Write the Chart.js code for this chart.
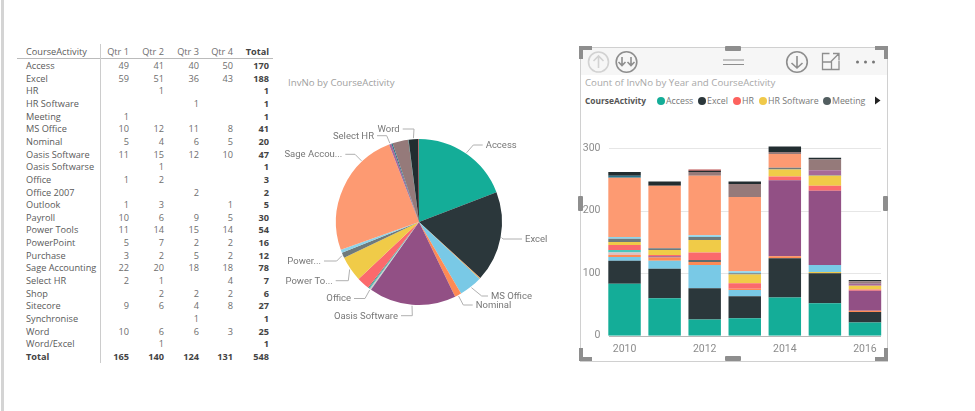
<!DOCTYPE html>
<html>
<head>
<meta charset="utf-8">
<script src="https://cdn.jsdelivr.net/npm/chart.js@4"></script>
<style>
html, body { margin: 0; padding: 0; background: #fff; }
body { width: 975px; height: 411px; position: relative; overflow: hidden; font-family: "Open Sans", sans-serif; }
.abs { position: absolute; white-space: nowrap; }
canvas { position: absolute; }
.cell { position: absolute; font-size: 9.2px; color: #6e6e6e; line-height: 12px; white-space: nowrap; }
.cell.name { color: #5a5a5a; }
.cell.bold { font-weight: 700; color: #444; }
.num { text-align: right; width: 30px; }
</style>
</head>
<body>

<div class="abs" style="left:1px;top:0;width:3px;height:411px;background:#d4d4d4"></div>

<!-- table -->
<div id="table"></div>
<div class="abs" style="left:17px;top:58px;width:256px;height:1px;background:#bbb"></div>
<div class="abs" style="left:100px;top:44px;width:1px;height:319px;background:#ccc"></div>

<!-- pie -->
<div class="abs" style="left:288px;top:76px;font-size:9.7px;line-height:14px;color:#a0a0a0">InvNo by CourseActivity</div>
<canvas id="pieChart" width="270" height="260" style="left:285px;top:70px"></canvas>

<!-- bar visual -->
<div class="abs" style="left:580px;top:47px;width:306px;height:313px;border:1px solid #d0d0d0;box-sizing:content-box"></div>
<div class="abs" style="left:581px;top:48px;width:306px;height:27px;background:#f6f6f6"></div>
<div class="abs" style="left:585px;top:76px;font-size:9.7px;line-height:14px;color:#a8a8a8">Count of InvNo by Year and CourseActivity</div>
<div id="legend"></div>
<canvas id="barChart" width="308" height="250" style="left:580px;top:110px"></canvas>

<svg class="abs" style="left:0;top:0" width="975" height="411" fill="none">
  <g fill="#8e8e8e">
    <path d="M579 46h13v4h-9v9h-4z"/>
    <path d="M875 46h13v13h-4v-9h-9z"/>
    <path d="M579 348h4v9h9v4h-13z"/>
    <path d="M884 348h4v13h-13v-4h9z"/>
    <rect x="725" y="46" width="16" height="5" rx="1"/>
    <rect x="725" y="356" width="16" height="5" rx="1"/>
    <rect x="578" y="196" width="5" height="15" rx="1"/>
    <rect x="883" y="196" width="5" height="15" rx="1"/>
  </g>
  <g stroke="#d2d2d2" stroke-width="1.6">
    <circle cx="598.5" cy="62" r="10"/>
    <path d="M598.5 68v-12M593.5 61l5-5 5 5"/>
  </g>
  <g stroke="#8e8e8e" stroke-width="1.6">
    <circle cx="626.5" cy="62" r="10.3"/>
    <path d="M622 57v8M618.5 62l3.5 3.5 3.5-3.5M631 57v8M627.5 62l3.5 3.5 3.5-3.5"/>
    <path d="M723 60h21M723 64.500h21" stroke-width="1.2"/>
    <circle cx="797" cy="62" r="10.3"/>
    <path d="M797 56v12M791.500 63l5.500 5 5.500-5"/>
    <path d="M822.500 62v7.500h9V62zM822.500 62v-8.500h7M833 53.500h6v7M839 53.500l-8 8M839 61v8.500h-8" stroke-width="1.3"/>
  </g>
  <g fill="#777">
    <circle cx="857.500" cy="62" r="1.500"/><circle cx="865.500" cy="62" r="1.500"/><circle cx="873.500" cy="62" r="1.500"/>
    <path d="M875 96.500l5.500 4-5.500 4z" fill="#222"/>
  </g>
</svg>

<script>
// table
const activities = ['Access', 'Excel', 'HR', 'HR Software', 'Meeting', 'MS Office', 'Nominal', 'Oasis Software', 'Oasis Softwarse', 'Office', 'Office 2007', 'Outlook', 'Payroll', 'Power Tools', 'PowerPoint', 'Purchase', 'Sage Accounting', 'Select HR', 'Shop', 'Sitecore', 'Synchronise', 'Word', 'Word/Excel'];
const qtr1 = [49, 59, null, null, 1, 10, 5, 11, null, 1, null, 1, 10, 11, 5, 3, 22, 2, null, 9, null, 10, null];
const qtr2 = [41, 51, 1, null, null, 12, 4, 15, 1, 2, null, 3, 6, 14, 7, 2, 20, 1, 2, 6, null, 6, 1];
const qtr3 = [40, 36, null, 1, null, 11, 6, 12, null, null, 2, null, 9, 15, 2, 5, 18, null, 2, 4, 1, 6, null];
const qtr4 = [50, 43, null, null, null, 8, 5, 10, null, null, null, 1, 5, 14, 2, 2, 18, 4, 2, 8, null, 3, null];
const rowTotals = [170, 188, 1, 1, 1, 41, 20, 47, 1, 3, 2, 5, 30, 54, 16, 12, 78, 7, 6, 27, 1, 25, 1];
const columnHeads = ['Qtr 1', 'Qtr 2', 'Qtr 3', 'Qtr 4', 'Total'];
const columnTotals = [165, 140, 124, 131, 548];

// pie
const pieValues = [326, 300, 1, 2, 1, 77, 22, 289, 1, 4, 4, 3, 42, 84, 18, 10, 418, 8, 4, 53, 1, 32, 2];
const pieColors = ['#14ad98', '#2b373b', '#fd625e', '#f0c94a', '#525e60', '#79c9e6', '#fe8a55', '#925085', '#3599b8', '#dfbfbf', '#4ac5bb', '#5f6b6d', '#fb6a6c', '#f0cb48', '#6f7a7b', '#8fd4ea', '#fd9a72', '#a66999', '#28738a', '#957a7a', '#168980', '#222d30', '#bb4a4a'];

// stacked bars
const years = ['2010', '2011', '2012', '2013', '2014', '2015', '2016'];
const accessByYear = [83, 60, 26, 28, 61, 52, 21];
const excelByYear = [37, 47, 50, 35, 63, 48, 17];
const hrSoftwareByYear = [0, 0, 0, 0, 0, 2, 0];
const msOfficeByYear = [6, 13, 37, 10, 0, 11, 0];
const nominalByYear = [3, 5, 5, 2, 3, 0, 2];
const oasisByYear = [0, 2, 0, 0, 122, 119, 32];
const officeByYear = [4, 0, 0, 0, 0, 0, 0];
const office2007ByYear = [4, 0, 0, 0, 0, 0, 0];
const outlookByYear = [0, 0, 3, 0, 0, 0, 0];
const payrollByYear = [8, 2, 12, 9, 6, 8, 2];
const powerToolsByYear = [5, 8, 20, 14, 11, 16, 6];
const powerPointByYear = [5, 3, 5, 2, 3, 1, 0];
const purchaseByYear = [3, 0, 3, 3, 0, 0, 0];
const sageByYear = [95, 100, 95, 119, 22, 0, 0];
const selectHrByYear = [0, 0, 0, 0, 0, 8, 3];
const shopByYear = [3, 0, 0, 0, 0, 0, 0];
const sitecoreByYear = [0, 0, 6, 21, 3, 17, 4];
const wordByYear = [6, 7, 2, 4, 9, 3, 2];
const wordExcelByYear = [0, 0, 2, 0, 0, 0, 0];

const legendNames = ['Access', 'Excel', 'HR', 'HR Software', 'Meeting'];

// ---- table ----
const table = document.getElementById('table');
const columnRight = [129, 164, 199, 233, 269];

function addCell(text, left, top, cls) {
    const d = document.createElement('div');
    d.className = 'cell ' + cls;
    d.textContent = text;
    d.style.left = left + 'px';
    d.style.top = top + 'px';
    table.appendChild(d);
}

function rowTop(i) { return 60 + i * 12.65; }

addCell('CourseActivity', 26, 46, 'name');
columnHeads.forEach(function (h, c) {
    addCell(h, columnRight[c] - 30, 46, c === 4 ? 'num bold' : 'num');
});
activities.forEach(function (name, i) {
    addCell(name, 26, rowTop(i), 'name');
    [qtr1, qtr2, qtr3, qtr4].forEach(function (q, c) {
        if (q[i] !== null) addCell(q[i], columnRight[c] - 30, rowTop(i), 'num');
    });
    addCell(rowTotals[i], columnRight[4] - 30, rowTop(i), 'num bold');
});
addCell('Total', 26, rowTop(23), 'name bold');
columnTotals.forEach(function (t, c) {
    addCell(t, columnRight[c] - 30, rowTop(23), 'num bold');
});

// ---- pie ----
// along = where on the slice the leader starts (0 start, 1 end), default middle
const callouts = [
    { i: 0, text: 'Access', elbow: 188.3, y: 75, x: 200.7, side: 'left' },
    { i: 1, text: 'Excel', elbow: 218, y: 169, x: 240, side: 'left' },
    { i: 5, text: 'MS Office', elbow: 196.7, y: 226, x: 206, side: 'left' },
    { i: 6, text: 'Nominal', elbow: 178.3, y: 235, x: 190.7, side: 'left' },
    { i: 7, text: 'Oasis Software', elbow: 127.3, y: 245.7, x: 113, side: 'right' },
    { i: 9, text: 'Office', elbow: 80, y: 228.5, x: 66, side: 'right' },
    { i: 13, text: 'Power To...', elbow: 63.3, y: 210.7, x: 47.7, side: 'right' },
    { i: 14, text: 'Power...', elbow: 51.7, y: 191, x: 36, side: 'right' },
    { i: 16, text: 'Sage Accou...', elbow: 70, y: 84.3, x: 57.3, side: 'right', along: 0.75 },
    { i: 17, text: 'Select HR', elbow: 101.7, y: 65.7, x: 89, side: 'right' },
    { i: 21, text: 'Word', elbow: 129, y: 59, x: 114.7, side: 'right' }
];

const calloutPlugin = {
    id: 'callouts',
    afterDraw: function (chart) {
        const ctx = chart.ctx;
        const arcs = chart.getDatasetMeta(0).data;
        ctx.save();
        ctx.font = '9.5px Roboto';
        ctx.textBaseline = 'middle';
        callouts.forEach(function (c) {
            const arc = arcs[c.i];
            const along = c.along === undefined ? 0.5 : c.along;
            const mid = arc.startAngle + (arc.endAngle - arc.startAngle) * along;
            const r = arc.outerRadius + 1;
            const endX = c.side === 'left' ? c.x - 3 : c.x + 3;
            ctx.strokeStyle = '#b0b0b0';
            ctx.lineWidth = 1;
            ctx.beginPath();
            ctx.moveTo(arc.x + Math.cos(mid) * r, arc.y + Math.sin(mid) * r);
            ctx.lineTo(c.elbow, c.y);
            ctx.lineTo(endX, c.y);
            ctx.stroke();
            ctx.fillStyle = '#777';
            ctx.textAlign = c.side;
            ctx.fillText(c.text, c.x, c.y + 0.5);
        });
        ctx.restore();
    }
};

new Chart(document.getElementById('pieChart'), {
    type: 'pie',
    data: {
        labels: activities,
        datasets: [{ data: pieValues, backgroundColor: pieColors, borderWidth: 0 }]
    },
    options: {
        responsive: false,
        animation: false,
        layout: { padding: { top: 69, bottom: 25, left: 51, right: 53 } },
        plugins: { legend: { display: false }, tooltip: { enabled: false } }
    },
    plugins: [calloutPlugin]
});

// ---- stacked bars ----
const barSeries = [
    ['Access', accessByYear, 0], ['Excel', excelByYear, 1], ['HR Software', hrSoftwareByYear, 3],
    ['MS Office', msOfficeByYear, 5], ['Nominal', nominalByYear, 6], ['Oasis Software', oasisByYear, 7],
    ['Office', officeByYear, 9], ['Office 2007', office2007ByYear, 10], ['Outlook', outlookByYear, 11],
    ['Payroll', payrollByYear, 12], ['Power Tools', powerToolsByYear, 13], ['PowerPoint', powerPointByYear, 14],
    ['Purchase', purchaseByYear, 15], ['Sage Accounting', sageByYear, 16], ['Select HR', selectHrByYear, 17],
    ['Shop', shopByYear, 18], ['Sitecore', sitecoreByYear, 19], ['Word', wordByYear, 21],
    ['Word/Excel', wordExcelByYear, 22]
];

// gridlines only run over the bars in the reference, not the full plot width
const gridPlugin = {
    id: 'shortGrid',
    beforeDatasetsDraw: function (chart) {
        const ctx = chart.ctx;
        const y = chart.scales.y;
        ctx.save();
        y.ticks.forEach(function (t) {
            const py = Math.round(y.getPixelForValue(t.value)) + 0.5;
            ctx.strokeStyle = t.value === 0 ? '#b8b8b8' : '#e6e6e6';
            ctx.beginPath();
            ctx.moveTo(29, py);
            ctx.lineTo(301, py);
            ctx.stroke();
        });
        ctx.restore();
    }
};

new Chart(document.getElementById('barChart'), {
    type: 'bar',
    data: {
        labels: years,
        datasets: barSeries.map(function (s) {
            return { label: s[0], data: s[1], backgroundColor: pieColors[s[2]], borderWidth: 0 };
        })
    },
    options: {
        responsive: false,
        animation: false,
        categoryPercentage: 1,
        barPercentage: 0.81,
        layout: { padding: { top: 25.8, right: 3, left: 0, bottom: 0 } },
        plugins: { legend: { display: false }, tooltip: { enabled: false } },
        scales: {
            x: {
                stacked: true,
                grid: { display: false, drawTicks: false },
                border: { display: false },
                afterFit: function (scale) { scale.height = 24.3; },
                ticks: {
                    autoSkip: false,
                    maxRotation: 0,
                    padding: 7,
                    color: '#8c8c8c',
                    font: { family: 'Roboto', size: 10.5 },
                    callback: function (value, index) {
                        return index % 2 === 0 ? years[index] : '';
                    }
                }
            },
            y: {
                stacked: true,
                min: 0,
                max: 320,
                grid: { display: false, drawTicks: false },
                border: { display: false },
                afterFit: function (scale) { scale.width = 24.5; },
                ticks: {
                    stepSize: 100,
                    includeBounds: false,
                    padding: 4,
                    color: '#8c8c8c',
                    font: { family: 'Roboto', size: 10.5 }
                }
            }
        }
    },
    plugins: [gridPlugin]
});

// ---- legend ----
const legend = document.getElementById('legend');
const legendDotX = [661, 702, 737, 763, 827];

function addLegendText(text, left, bold) {
    const d = document.createElement('div');
    d.className = 'abs';
    d.textContent = text;
    d.style.cssText += 'left:' + left + 'px;top:94px;line-height:14px;font-size:' + (bold ? 8.4 : 8.8) + 'px;color:' + (bold ? '#555' : '#777') + ';font-weight:' + (bold ? 700 : 400);
    legend.appendChild(d);
}

addLegendText('CourseActivity', 585, true);
legendNames.forEach(function (name, i) {
    const dot = document.createElement('div');
    dot.className = 'abs';
    dot.style.cssText = 'left:' + (legendDotX[i] - 4) + 'px;top:97px;width:8px;height:8px;border-radius:50%;background:' + pieColors[i];
    legend.appendChild(dot);
    addLegendText(name, legendDotX[i] + 5, false);
});
</script>
</body>
</html>
